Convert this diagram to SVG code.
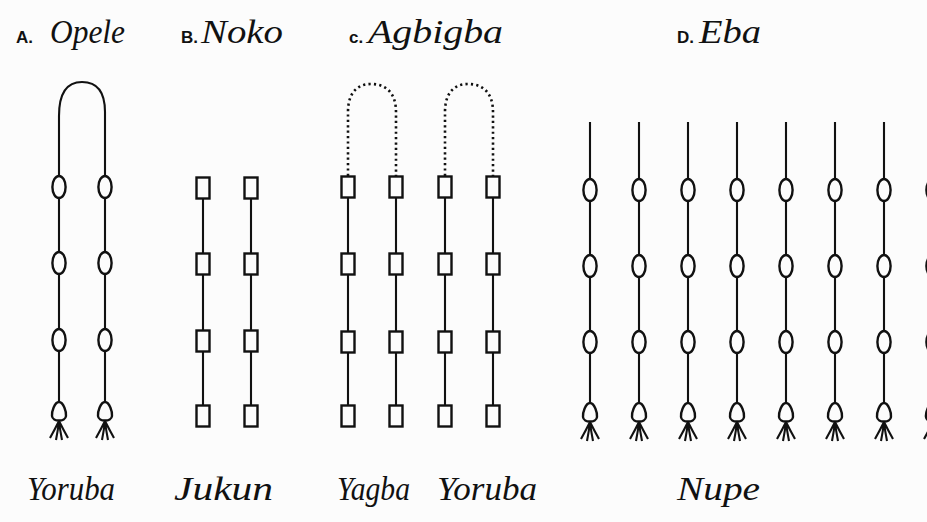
<svg xmlns="http://www.w3.org/2000/svg" xmlns:xlink="http://www.w3.org/1999/xlink" width="927" height="522" viewBox="0 0 927 522">
<style>
.ln{stroke:#111;stroke-width:2.1;fill:none}
.dot{stroke:#111;stroke-width:2.6;fill:none;stroke-dasharray:2.2 3.2}
.bead{stroke:#111;stroke-width:2.4;fill:#fcfcfc}
.lbl{font-family:"Liberation Sans",Arial,sans-serif;font-size:17px;font-weight:bold;fill:#111}
.ttl{font-family:"Liberation Serif","Times New Roman",serif;font-style:italic;font-size:34px;fill:#111}
</style>
<defs>
<g id="oval"><ellipse class="bead" cx="0" cy="0" rx="6.6" ry="11"/></g>
<g id="sq"><rect class="bead" x="-6.5" y="-10.5" width="13" height="21"/></g>
<g id="knot">
<path class="bead" d="M0,-11 C4.5,-11 7.5,-1 7,3 C6.5,9 -6.5,9 -7,3 C-7.5,-1 -4.5,-11 0,-11Z"/>
<path class="ln" d="M0,8 Q-4,16 -9,25 M0,8 Q-1,17 -3,27 M0,8 Q1,17 3,27 M0,8 Q4,16 9,25"/>
</g>
</defs>
<rect width="927" height="522" fill="#fcfcfc"/>

<g id="titles">
<text class="lbl" x="16" y="43">A.</text>
<text class="ttl" x="50" y="43" textLength="75" lengthAdjust="spacingAndGlyphs">Opele</text>
<text class="lbl" x="181" y="43">B.</text>
<text class="ttl" x="201" y="43" textLength="82" lengthAdjust="spacingAndGlyphs">Noko</text>
<text class="lbl" x="349" y="43">c.</text>
<text class="ttl" x="368" y="43" textLength="135" lengthAdjust="spacingAndGlyphs">Agbigba</text>
<text class="lbl" x="677" y="43">D.</text>
<text class="ttl" x="699" y="43" textLength="62" lengthAdjust="spacingAndGlyphs">Eba</text>
</g>

<g id="connectors">
<path class="ln" d="M59,404 L59,116 C59,91 68,82 82,82 C96,82 105,91 105,112 L105,404"/>
<path class="ln" d="M203,178 V417 M251,178 V417"/>
<path class="ln" d="M348,177 V417 M396,177 V417 M445,177 V417 M493,177 V417"/>
<path class="dot" d="M348,176 L348,112 C348,92 358,84 371,84 C385,84 396,92 396,112 L396,176"/>
<path class="dot" d="M445,176 L445,112 C445,92 455,84 468,84 C482,84 493,92 493,112 L493,176"/>
<path class="ln" d="M590,122 V405 M639,122 V405 M688,122 V405 M737,122 V405 M786,122 V405 M835,122 V405 M884,122 V405 M933,122 V405"/>
</g>

<g id="opele">
<use href="#oval" x="59" y="187"/><use href="#oval" x="59" y="263"/><use href="#oval" x="59" y="340"/><use href="#knot" x="59" y="413"/>
<use href="#oval" x="105" y="187"/><use href="#oval" x="105" y="263"/><use href="#oval" x="105" y="340"/><use href="#knot" x="105" y="413"/>
</g>

<g id="noko">
<use href="#sq" x="203" y="188"/><use href="#sq" x="203" y="264"/><use href="#sq" x="203" y="341"/><use href="#sq" x="203" y="416"/>
<use href="#sq" x="251" y="188"/><use href="#sq" x="251" y="264"/><use href="#sq" x="251" y="341"/><use href="#sq" x="251" y="416"/>
</g>

<g id="agbigba">
<use href="#sq" x="348" y="187"/><use href="#sq" x="348" y="264"/><use href="#sq" x="348" y="342"/><use href="#sq" x="348" y="416"/>
<use href="#sq" x="396" y="187"/><use href="#sq" x="396" y="264"/><use href="#sq" x="396" y="342"/><use href="#sq" x="396" y="416"/>
<use href="#sq" x="445" y="187"/><use href="#sq" x="445" y="264"/><use href="#sq" x="445" y="342"/><use href="#sq" x="445" y="416"/>
<use href="#sq" x="493" y="187"/><use href="#sq" x="493" y="264"/><use href="#sq" x="493" y="342"/><use href="#sq" x="493" y="416"/>
</g>

<g id="eba">
<use href="#oval" x="590" y="190"/><use href="#oval" x="590" y="266"/><use href="#oval" x="590" y="342"/><use href="#knot" x="590" y="414"/>
<use href="#oval" x="639" y="190"/><use href="#oval" x="639" y="266"/><use href="#oval" x="639" y="342"/><use href="#knot" x="639" y="414"/>
<use href="#oval" x="688" y="190"/><use href="#oval" x="688" y="266"/><use href="#oval" x="688" y="342"/><use href="#knot" x="688" y="414"/>
<use href="#oval" x="737" y="190"/><use href="#oval" x="737" y="266"/><use href="#oval" x="737" y="342"/><use href="#knot" x="737" y="414"/>
<use href="#oval" x="786" y="190"/><use href="#oval" x="786" y="266"/><use href="#oval" x="786" y="342"/><use href="#knot" x="786" y="414"/>
<use href="#oval" x="835" y="190"/><use href="#oval" x="835" y="266"/><use href="#oval" x="835" y="342"/><use href="#knot" x="835" y="414"/>
<use href="#oval" x="884" y="190"/><use href="#oval" x="884" y="266"/><use href="#oval" x="884" y="342"/><use href="#knot" x="884" y="414"/>
<use href="#oval" x="933" y="190"/><use href="#oval" x="933" y="266"/><use href="#oval" x="933" y="342"/><use href="#knot" x="933" y="414"/>
</g>

<g id="peoples">
<text class="ttl" x="27" y="500" textLength="88" lengthAdjust="spacingAndGlyphs">Yoruba</text>
<text class="ttl" x="174" y="500" textLength="99" lengthAdjust="spacingAndGlyphs">Jukun</text>
<text class="ttl" x="337" y="500" textLength="73" lengthAdjust="spacingAndGlyphs">Yagba</text>
<text class="ttl" x="437" y="500" textLength="100" lengthAdjust="spacingAndGlyphs">Yoruba</text>
<text class="ttl" x="677" y="500" textLength="83" lengthAdjust="spacingAndGlyphs">Nupe</text>
</g>
</svg>
